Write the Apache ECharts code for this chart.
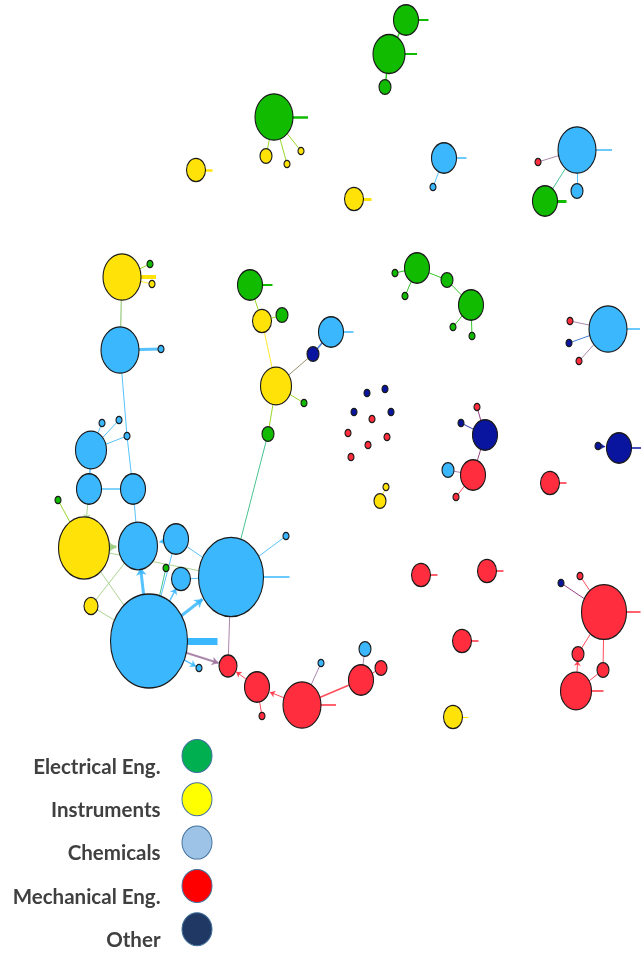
<!DOCTYPE html>
<html>
<head>
<meta charset="utf-8">
<script src="https://cdn.jsdelivr.net/npm/echarts@6/dist/echarts.min.js"></script>
<style>
html,body{margin:0;padding:0;background:#ffffff;}
#chart{width:641px;height:954px;}
</style>
</head>
<body>
<div id="chart"></div>
<script>
// ---------- DATA ----------
const categoryNames = ['Electrical Eng.', 'Instruments', 'Chemicals', 'Mechanical Eng.', 'Other'];

// node category index
const nodeCat = [0,0,0,2,2,1,2,3,2,0, 0,1,1,1,1,1,0,1,2,2, 2,2,2,2,2,2,0,1,2,2, 0,2,2,2,2,1,2,3,3,3,
                 3,2,3,2,3,3,1,0,1,0, 1,2,4,0,0,4,4,4,4,3, 3,3,3,3,1,1,4,3,4,3, 2,3,3,4,4,0,0,0,0,0,
                 0,0,2,3,4,3,3,3,4,3, 3,3,3,3];
// node position (layout coordinates)
const nodeX = [406,389,385,444,433,354,577,538,577,545, 274,266,287,301,196,122,150,152,120,161,
               91,102,119,127,89,133,58,84,138,176, 166,181,149,231,286,91,199,228,257,302,
               262,321,361,365,381,462,453,250,262,282, 276,331,313,304,268,367,385,354,391,372,
               348,387,368,351,386,380,485,477,461,473, 448,456,550,619,598,417,395,405,447,471,
               453,472,608,570,569,579,604,580,561,578, 603,576,421,487];
const nodeY = [20,54,87,158,187,199,150,162,191,201, 117,156,164,151,170,277,264,284,350,349,
               450,423,420,436,489,489,500,548,546,539, 568,579,641,577,536,606,668,666,687,705,
               716,663,680,649,668,641,717,285,321,315, 386,332,354,403,434,393,389,412,412,419,
               433,437,445,457,487,501,435,407,423,475, 470,497,483,448,446,268,273,296,280,305,
               327,336,329,321,343,361,612,576,583,654, 670,691,575,571];
// node size (weight)
const nodeSize = [25,32,12,25,6,19,38,6,12,25, 38,12,6,6,19,38,6,6,38,6,
                  31,6,6,6,25,25,6,51,39,25, 6,19,77,65,6,14,6,18,25,38,
                  6,6,25,12,12,19,19,25,19,12, 31,25,12,6,12,6,6,6,6,6,
                  6,6,6,6,6,12,25,6,6,25, 12,6,19,25,6,25,6,6,12,25,
                  6,6,38,6,6,6,45,6,6,12, 12,31,19,19];

// self-links (drawn as short stubs to the right)
const loopNode   = [0, 1, 3, 5, 6, 9, 10, 14, 15, 32, 33, 39, 45, 46, 47, 51, 72, 73, 82, 86, 91, 92, 93];
const loopLen    = [10,12,10, 8,16, 9, 15,  7, 15, 30, 26, 15,  7,  6, 10, 10,  7, 10, 13, 14, 12,  7,  7];
const loopWeight = [2, 2,1.5, 3,1.5,3,2.5,2.5,  4,  7,1.5,1.5,1.5,  1,  2,1.5,1.5,1.5,1.5,1.5,1.5,1.5,1.5];

// links between nodes
const edgeSource = [0,1,3,6,6,6,10,10,10,15,15,15,18,18,23,20,20,20,20,24,24,26,27,25,29,32,32,32,32,32,
                    29,31,27,35,35,27,54,33,32,32,33,38,39,38,39,39,42,42,47,48,48,50,52,50,50,64,
                    66,66,66,69,69,74,75,75,75,78,79,79,82,82,82,86,86,86,86,90,91];
const edgeTarget = [1,2,4,7,8,9,11,12,13,16,17,18,19,23,25,21,22,23,24,25,27,27,28,28,28,28,30,29,31,33,
                    33,33,32,28,32,33,33,34,36,37,37,37,38,40,41,42,43,44,48,49,50,52,51,53,54,65,
                    67,68,69,70,71,73,76,77,78,79,80,81,83,84,85,87,88,89,90,91,89];
const edgeWeight = [1.5,1.5,1,1,1,1,1,1,1,1,1,1.5,3,1,1,1,1,1,1.5,1.5,1,1,3,1,1,3,1,1,1.5,3,
                    1,1,1,1,1,1,1,1,1.5,2,1,1,1,1,1,1.5,1,1,1,1,1,1,1.5,1,1,1,
                    1,1,1,1,1,1,1,1,1,1,1,1,1,1,1,1,1,1,1,1,1];
const edgeArrow  = [0,0,0,0,0,0,0,0,0,0,0,0,0,0,0,0,0,0,0,0,1,0,1,0,1,1,0,0,1,1,
                    0,0,0,0,0,0,0,0,1,1,0,1,1,0,0,0,0,0,0,0,0,0,0,0,0,0,
                    0,0,0,0,0,1,0,0,0,0,0,0,0,0,0,0,0,0,0,0,1];

// legend rows (one per category)
const legendRow = [0, 1, 2, 3, 4];

// ---------- STYLE ----------
const nodeColors   = ['#11bb00', '#ffe308', '#3bb7fd', '#ff2d3e', '#0a159f'];
const legendColors = ['#00b050', '#ffff00', '#9dc3e6', '#ff0000', '#203864'];
const ASPECT = 1.22;
const LEGEND_X = 197, LEGEND_Y0 = 756, LEGEND_STEP = 43.3;

function hexToRgb(h) {
  return [parseInt(h.slice(1,3),16), parseInt(h.slice(3,5),16), parseInt(h.slice(5,7),16)];
}
function mix(a, b) {
  const A = hexToRgb(a), B = hexToRgb(b);
  return 'rgb(' + A.map((v, i) => Math.round((v + B[i]) / 2)).join(',') + ')';
}

const nodes = nodeX.map((x, i) => ({
  name: 'n' + i,
  value: [x, nodeY[i]],
  category: nodeCat[i],
  symbolSize: [nodeSize[i], nodeSize[i] * ASPECT]
}));
const links = edgeSource.map((s, i) => {
  const t = edgeTarget[i];
  const c = nodeCat[s] === nodeCat[t] ? nodeColors[nodeCat[s]] : mix(nodeColors[nodeCat[s]], nodeColors[nodeCat[t]]);
  const l = {
    source: s, target: t,
    lineStyle: { color: c, width: edgeWeight[i], opacity: 0.85 }
  };
  if (edgeArrow[i]) { l.symbol = ['none', 'arrow']; l.symbolSize = [0, 4 + edgeWeight[i] * 1.3]; }
  return l;
});
// self-link stubs
loopNode.forEach((n, k) => {
  const idx = nodes.length;
  nodes.push({
    name: 'loop' + k,
    value: [nodeX[n] + nodeSize[n] / 2 + loopLen[k], nodeY[n]],
    symbolSize: 0,
    itemStyle: { opacity: 0 },
    label: { show: false }
  });
  links.push({
    source: n, target: idx,
    lineStyle: { color: nodeColors[nodeCat[n]], width: loopWeight[k], opacity: 1 }
  });
});

const legendData = legendRow.map(r => ({
  name: categoryNames[r],
  value: [LEGEND_X, LEGEND_Y0 + r * LEGEND_STEP],
  itemStyle: { color: legendColors[r] }
}));

const chart = echarts.init(document.getElementById('chart'), null, { renderer: 'canvas' });
chart.setOption({
  backgroundColor: '#ffffff',
  animation: false,
  grid: { left: 0, right: 0, top: 0, bottom: 0 },
  xAxis: { type: 'value', min: 0, max: 641, show: false },
  yAxis: { type: 'value', min: 0, max: 954, inverse: true, show: false },
  series: [{
    type: 'graph',
    layout: 'none',
    coordinateSystem: 'cartesian2d',
    silent: true,
    roam: false,
    categories: categoryNames.map((n, i) => ({ name: n, itemStyle: { color: nodeColors[i] } })),
    itemStyle: { borderColor: '#1a1a1a', borderWidth: 1.2 },
    label: { show: false },
    edgeSymbol: ['none', 'none'],
    lineStyle: { curveness: 0 },
    emphasis: { disabled: true },
    data: nodes,
    links: links
  }, {
    type: 'scatter',
    name: 'legend',
    silent: true,
    symbol: 'circle',
    symbolSize: [30, 33],
    itemStyle: { borderColor: '#41719c', borderWidth: 1, opacity: 1 },
    label: {
      show: true,
      position: 'left',
      distance: 21,
      offset: [0, 11],
      formatter: p => p.name,
      fontFamily: 'Lato',
      fontWeight: 'bold',
      fontSize: 20.5,
      color: '#404040'
    },
    emphasis: { disabled: true },
    data: legendData
  }]
});
</script>
</body>
</html>
